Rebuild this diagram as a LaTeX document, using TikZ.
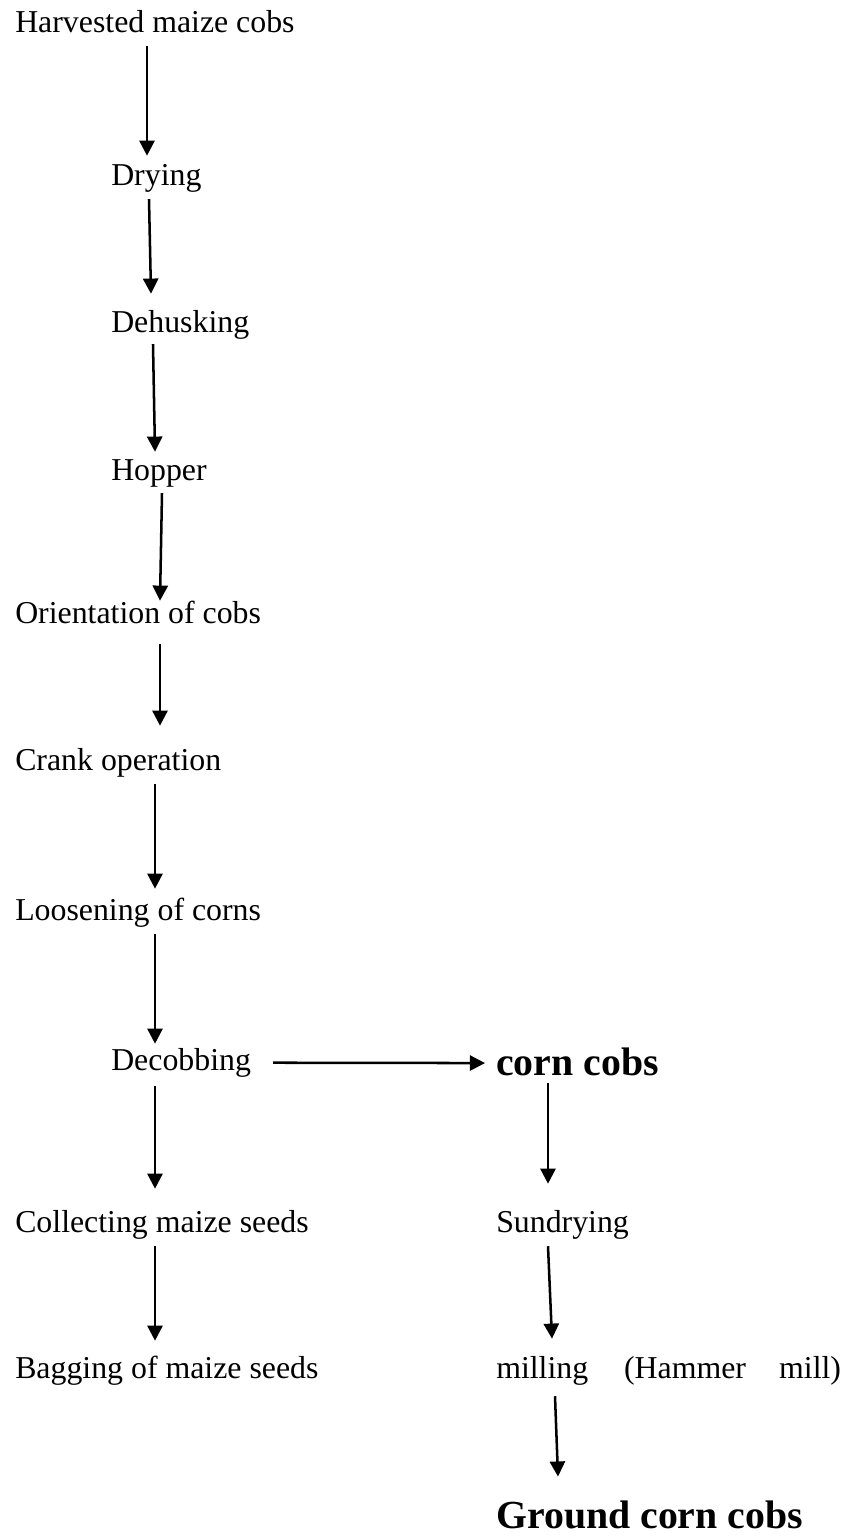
\documentclass[tikz,border=0pt]{standalone}
\usepackage{fontspec}
\setmainfont{Liberation Serif}
\usetikzlibrary{arrows.meta}

\begin{document}
\begin{tikzpicture}[x=0.377pt, y=-0.377pt, line width=0.95pt,
    stage/.style={anchor=base west, inner sep=0pt, text height=8.5pt, text depth=3pt, font=\fontsize{12}{14}\selectfont},
    product/.style={anchor=base west, inner sep=0pt, text height=11pt, text depth=3.5pt, font=\fontsize{15}{18}\selectfont\bfseries},
    flow/.style={-{Triangle[length=5.7pt, width=5.7pt]}}]
    % page size (px)
    \useasboundingbox (0,0) rectangle (852,1538);

    % Steps, left column
    \node[stage] (harvest) at (14,32) {Harvested maize cobs};
    \node[stage] (drying) at (110,185) {Drying};
    \node[stage] (dehusk) at (110,332) {Dehusking};
    \node[stage] (hopper) at (110,480) {Hopper};
    \node[stage] (orient) at (14,623) {Orientation of cobs};
    \node[stage] (crank) at (14,770) {Crank operation};
    \node[stage] (loosen) at (14,920) {Loosening of corns};
    \node[stage] (decob) at (110,1070) {Decobbing};
    \node[stage] (collect) at (14,1232) {Collecting maize seeds};
    \node[stage] (bagging) at (14,1378) {Bagging of maize seeds};

    % Steps, right column
    \node[product] (cobs) at (495,1075) {corn cobs};
    \node[stage] (sundry) at (495,1232) {Sundrying};
    \node[stage] (milling) at (495,1378) {milling\hspace{13.5pt}(Hammer\hspace{12.5pt}mill)};
    \node[product] (ground) at (495,1528) {Ground corn cobs};

    % Arrows
    \draw[flow] ([shift={(133,5)}]harvest.south west) -- ([shift={(37,-5.5)}]drying.north west);
    \draw[flow] ([shift={(39,5)}]drying.south west) -- ([shift={(41,-14.5)}]dehusk.north west);
    \draw[flow] ([shift={(43,3)}]dehusk.south west) -- ([shift={(45,-4.5)}]hopper.north west);
    \draw[flow] ([shift={(52,4)}]hopper.south west) -- ([shift={(146,1.5)}]orient.north west);
    \draw[flow] ([shift={(146,12)}]orient.south west) -- ([shift={(146,-20.5)}]crank.north west);
    \draw[flow] ([shift={(141,5)}]crank.south west) -- ([shift={(141,-7.5)}]loosen.north west);
    \draw[flow] ([shift={(141,5)}]loosen.south west) -- ([shift={(45,-2.5)}]decob.north west);
    \draw[flow] ([xshift=21*0.377pt]decob.east) -- ([shift={(-10,-2)}]cobs.west);
    \draw[flow] ([shift={(45,7)}]decob.south west) -- ([shift={(141,-19.5)}]collect.north west);
    \draw[flow] ([shift={(141,5)}]collect.south west) -- ([shift={(141,-13.5)}]bagging.north west);
    \draw[flow] ([shift={(53,-2.3)}]cobs.south west) -- ([shift={(53,-24.5)}]sundry.north west);
    \draw[flow] ([shift={(53,5)}]sundry.south west) -- ([shift={(57,-15.5)}]milling.north west);
    \draw[flow] ([shift={(60,9)}]milling.south west) -- ([shift={(63,-21)}]ground.north west);

\end{tikzpicture}
\end{document}
